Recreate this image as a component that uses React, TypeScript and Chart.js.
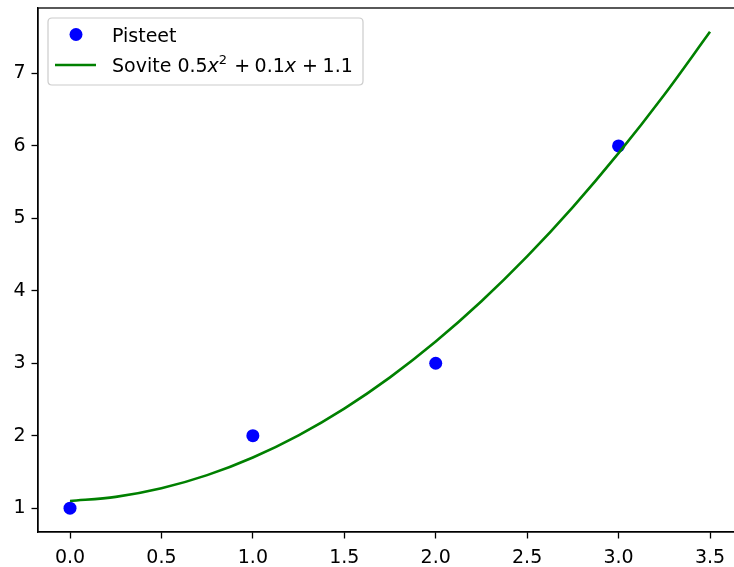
import React, { useEffect, useRef } from "react";
import { Chart, registerables } from "chart.js";

Chart.register(...registerables);

const pointX = [0, 1, 2, 3];
const pointY = [1, 2, 3, 6];

const curveX = [0, 0.25, 0.5, 0.75, 1.0, 1.25, 1.5, 1.75, 2.0, 2.25, 2.5, 2.75, 3.0, 3.25, 3.5];
const curveY = [1.1, 1.156, 1.275, 1.456, 1.7, 2.006, 2.375, 2.806, 3.3, 3.856, 4.475, 5.156, 5.9, 6.706, 7.575];

const xTicks = [0, 0.5, 1.0, 1.5, 2.0, 2.5, 3.0, 3.5];
const yTicks = [1, 2, 3, 4, 5, 6, 7];

const legendPoints = "Pisteet";
const legendFit = "Sovite";

const FONT = "DejaVu Sans";
const FS = 19;

const framePlugin = {
  id: "frame",
  afterDraw(chart: any) {
    const { ctx, chartArea } = chart;
    ctx.save();
    ctx.strokeStyle = "#000";
    ctx.lineWidth = 1.3;
    ctx.strokeRect(chartArea.left, chartArea.top, chartArea.right - chartArea.left, chartArea.bottom - chartArea.top);
    ctx.restore();
  },
};

const legendPlugin = {
  id: "mplLegend",
  afterDraw(chart: any) {
    const { ctx } = chart;
    ctx.save();
    const bx = 48, by = 18, bw = 315, bh = 67, r = 4;
    ctx.beginPath();
    ctx.moveTo(bx + r, by);
    ctx.lineTo(bx + bw - r, by);
    ctx.quadraticCurveTo(bx + bw, by, bx + bw, by + r);
    ctx.lineTo(bx + bw, by + bh - r);
    ctx.quadraticCurveTo(bx + bw, by + bh, bx + bw - r, by + bh);
    ctx.lineTo(bx + r, by + bh);
    ctx.quadraticCurveTo(bx, by + bh, bx, by + bh - r);
    ctx.lineTo(bx, by + r);
    ctx.quadraticCurveTo(bx, by, bx + r, by);
    ctx.closePath();
    ctx.fillStyle = "rgba(255,255,255,0.8)";
    ctx.fill();
    ctx.strokeStyle = "#cccccc";
    ctx.lineWidth = 1.2;
    ctx.stroke();

    ctx.beginPath();
    ctx.arc(76, 34.5, 6.5, 0, Math.PI * 2);
    ctx.fillStyle = "#0000ff";
    ctx.fill();
    ctx.beginPath();
    ctx.moveTo(55, 65);
    ctx.lineTo(96, 65);
    ctx.strokeStyle = "#008000";
    ctx.lineWidth = 2.6;
    ctx.stroke();

    ctx.fillStyle = "#000";
    ctx.textBaseline = "alphabetic";
    const normal = `${FS}px "${FONT}"`;
    const italic = `oblique ${FS}px "${FONT}"`;
    const small = `${Math.round(FS * 0.7)}px "${FONT}"`;
    ctx.font = normal;
    ctx.fillText(legendPoints, 112, 41.5);

    const base = 71.5;
    let x = 112;
    const pieces: [string, string, number][] = [
      [legendFit + " ", normal, 0],
      ["0.5", normal, 0],
      ["x", italic, 0],
      ["2", small, -7.5],
      [" + ", normal, 0],
      ["0.1", normal, 0],
      ["x", italic, 0],
      [" + ", normal, 0],
      ["1.1", normal, 0],
    ];
    for (const [t, f, dy] of pieces) {
      ctx.font = f;
      ctx.fillText(t, x, base + dy);
      let w = ctx.measureText(t).width;
      if (t === " + ") w -= 1.5;
      x += w;
      if (t === "2") x += 1;
    }
    ctx.restore();
  },
};

export default function App() {
  const ref = useRef<HTMLCanvasElement | null>(null);
  useEffect(() => {
    if (!ref.current) return;
    const chart = new Chart(ref.current, {
      type: "scatter",
      data: {
        datasets: [
          {
            label: "Sovite",
            data: curveX.map((x, i) => ({ x, y: curveY[i] })),
            showLine: true,
            borderColor: "#008000",
            borderWidth: 2.6,
            pointRadius: 0,
            cubicInterpolationMode: "monotone",
            order: 0,
          } as any,
          {
            label: "Pisteet",
            data: pointX.map((x, i) => ({ x, y: pointY[i] })),
            showLine: false,
            backgroundColor: "#0000ff",
            borderWidth: 0,
            pointRadius: 6.5,
            order: 1,
          } as any,
        ],
      },
      options: {
        animation: false,
        responsive: false,
        layout: { autoPadding: false, padding: { top: 8, right: 8, left: 0, bottom: 0 } },
        plugins: { legend: { display: false }, tooltip: { enabled: false } },
        scales: {
          x: {
            type: "linear",
            min: -0.175,
            max: 3.675,
            afterBuildTicks: (s: any) => {
              s.ticks = xTicks.map((v) => ({ value: v }));
            },
            afterFit: (s: any) => {
              s.height = 35;
              s.paddingLeft = 0;
              s.paddingRight = 0;
            },
            ticks: {
              color: "#000",
              font: { family: FONT, size: FS },
              padding: 8,
              maxRotation: 0,
              autoSkip: false,
              callback: (v: any) => Number(v).toFixed(1),
            },
            grid: { display: true, drawOnChartArea: false, tickLength: 6.5, tickColor: "#000", tickWidth: 1.3 },
            border: { display: true, color: "#000", width: 1.3 },
          },
          y: {
            type: "linear",
            min: 0.671,
            max: 7.904,
            afterBuildTicks: (s: any) => {
              s.ticks = yTicks.map((v) => ({ value: v }));
            },
            afterFit: (s: any) => {
              s.width = 38;
              s.paddingTop = 0;
              s.paddingBottom = 0;
            },
            ticks: {
              color: "#000",
              font: { family: FONT, size: FS },
              padding: 6,
              autoSkip: false,
              callback: (v: any) => String(v),
            },
            grid: { display: true, drawOnChartArea: false, tickLength: 6.5, tickColor: "#000", tickWidth: 1.3 },
            border: { display: true, color: "#000", width: 1.3 },
          },
        },
      } as any,
      plugins: [framePlugin, legendPlugin],
    });
    return () => chart.destroy();
  }, []);
  return (
    <div style={{ position: "fixed", left: 0, top: 0, width: 734, height: 567, overflow: "hidden", background: "#fff" }}>
      <canvas ref={ref} width={750} height={567} style={{ display: "block" }} />
    </div>
  );
}
